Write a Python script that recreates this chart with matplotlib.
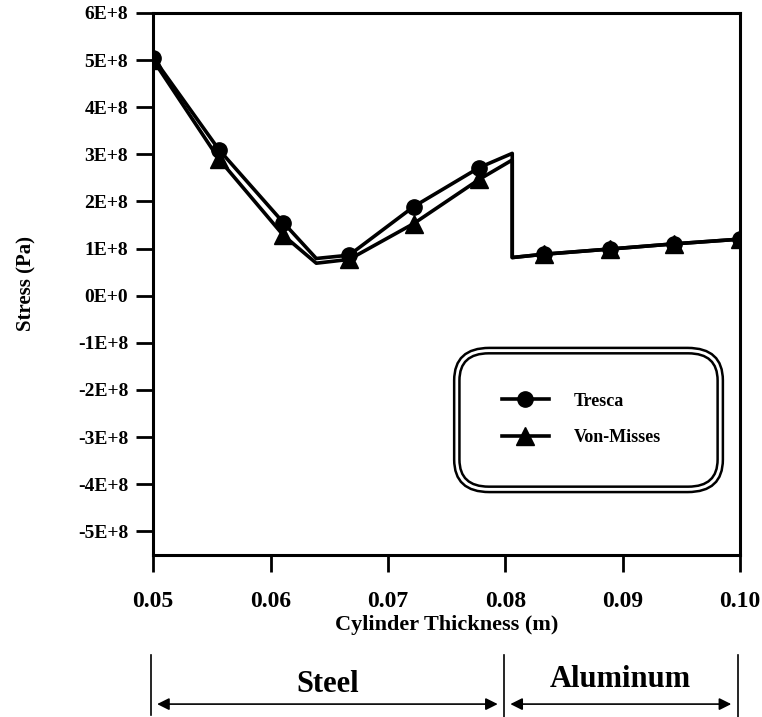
import matplotlib.pyplot as plt
from matplotlib.lines import Line2D
from matplotlib.patches import FancyBboxPatch
import matplotlib.transforms as mtransforms

plt.rcParams['font.family'] = 'Liberation Serif'
plt.rcParams['font.weight'] = 'bold'
plt.rcParams['axes.labelweight'] = 'bold'

# data (stress in Pa)
x_vals = [0.05, 0.0556, 0.0611, 0.0639, 0.0667, 0.0722, 0.0778, 0.0806,
          0.0806, 0.0833, 0.0889, 0.0944, 0.10]
tresca = [5.05e8, 3.10e8, 1.55e8, 0.79e8, 0.86e8, 1.89e8, 2.72e8, 3.02e8,
          0.81e8, 0.88e8, 0.99e8, 1.10e8, 1.20e8]
von_misses = [5.00e8, 2.90e8, 1.28e8, 0.69e8, 0.77e8, 1.53e8, 2.47e8, 2.88e8,
              0.81e8, 0.88e8, 0.99e8, 1.10e8, 1.20e8]
marker_idx = [0, 1, 2, 4, 5, 6, 9, 10, 11, 12]

x_ticks = [0.05, 0.06, 0.07, 0.08, 0.09, 0.10]
x_ticklabels = ['0.05', '0.06', '0.07', '0.08', '0.09', '0.10']
y_ticks = [6e8, 5e8, 4e8, 3e8, 2e8, 1e8, 0, -1e8, -2e8, -3e8, -4e8, -5e8]
y_ticklabels = ['6E+8', '5E+8', '4E+8', '3E+8', '2E+8', '1E+8', '0E+0',
                '-1E+8', '-2E+8', '-3E+8', '-4E+8', '-5E+8']

fig = plt.figure(figsize=(7.62, 7.17), dpi=100)
ax = fig.add_axes([0.201, 0.226, 0.770, 0.756])

ax.plot(x_vals, tresca, color='black', lw=2.6, marker='o', ms=11,
        markevery=marker_idx, label='Tresca')
ax.plot(x_vals, von_misses, color='black', lw=2.6, marker='^', ms=13,
        markevery=marker_idx, label='Von-Misses')

ax.set_xlim(0.05, 0.10)
ax.set_ylim(-5.5e8, 6e8)
ax.set_xticks(x_ticks)
ax.set_xticklabels(x_ticklabels, fontsize=17)
ax.set_yticks(y_ticks)
ax.set_yticklabels(y_ticklabels, fontsize=14)
ax.tick_params(direction='out', length=12, width=2, pad=6)
ax.tick_params(axis='x', pad=14)
for sp in ax.spines.values():
    sp.set_linewidth(2.2)

ax.set_xlabel('Cylinder Thickness (m)', fontsize=16, labelpad=2)
ax.set_ylabel('Stress (Pa)', fontsize=15, labelpad=30)

# legend with double rounded frame
leg = ax.legend(loc='center', bbox_to_anchor=(0.73, 0.25), frameon=False,
                fontsize=13, handlelength=2.6, labelspacing=1.1,
                handletextpad=1.4)
ax.add_patch(FancyBboxPatch((0.513, 0.116), 0.458, 0.266,
                            boxstyle='round,pad=0,rounding_size=0.06',
                            transform=ax.transAxes, fill=False, lw=1.8,
                            ec='black'))
ax.add_patch(FancyBboxPatch((0.522, 0.126), 0.440, 0.246,
                            boxstyle='round,pad=0,rounding_size=0.05',
                            transform=ax.transAxes, fill=False, lw=1.8,
                            ec='black'))

# material ranges below the axis
tr = mtransforms.blended_transform_factory(ax.transData, fig.transFigure)
for xv, y0 in [(0.0498, 0.003), (0.0799, 0.0), (0.0998, 0.0)]:
    ax.add_line(Line2D([xv, xv], [y0, 0.087], transform=tr, color='black',
                       lw=1.2, clip_on=False))
ax.annotate('', xy=(0.0501, 0.018), xytext=(0.0796, 0.018),
            xycoords=tr, textcoords=tr,
            arrowprops=dict(arrowstyle='<|-|>', color='black', lw=1.2,
                            mutation_scale=18))
ax.annotate('', xy=(0.0802, 0.018), xytext=(0.0995, 0.018),
            xycoords=tr, textcoords=tr,
            arrowprops=dict(arrowstyle='<|-|>', color='black', lw=1.2,
                            mutation_scale=18))
ax.text(0.0649, 0.045, 'Steel', transform=tr, ha='center', va='center',
        fontsize=22)
ax.text(0.0898, 0.052, 'Aluminum', transform=tr, ha='center', va='center',
        fontsize=22)

fig.savefig('out.png', dpi=100)
